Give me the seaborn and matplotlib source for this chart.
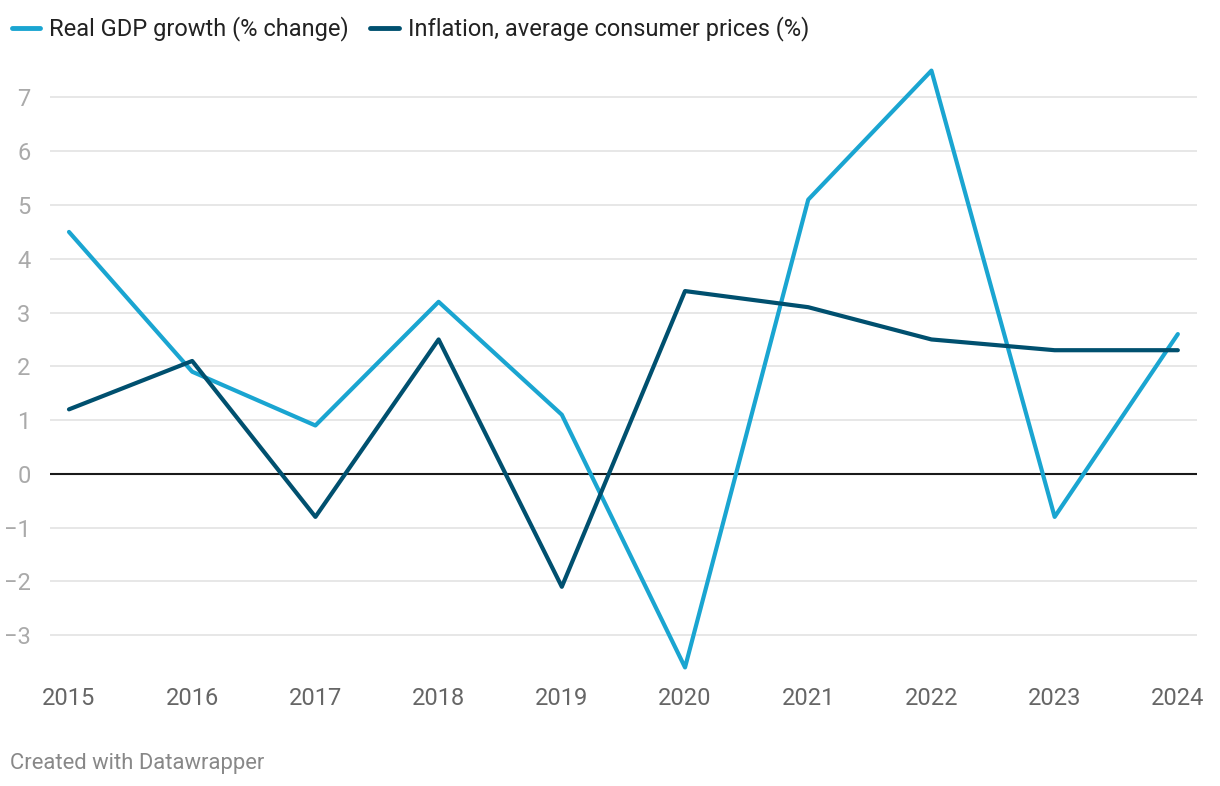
import pandas as pd
import matplotlib.pyplot as plt
import seaborn as sns

years = [2015, 2016, 2017, 2018, 2019, 2020, 2021, 2022, 2023, 2024]
gdp = [4.5, 1.9, 0.9, 3.2, 1.1, -3.6, 5.1, 7.5, -0.8, 2.6]
inflation = [1.2, 2.1, -0.8, 2.5, -2.1, 3.4, 3.1, 2.5, 2.3, 2.3]
series_names = ['Real GDP growth (% change)', 'Inflation, average consumer prices (%)']
y_ticks = [-3, -2, -1, 0, 1, 2, 3, 4, 5, 6, 7]

sns.set_theme(style='white')
plt.rcParams['font.family'] = ['Roboto', 'DejaVu Sans']

df = pd.DataFrame({'year': years, series_names[0]: gdp, series_names[1]: inflation})
long_df = df.melt(id_vars='year', var_name='series', value_name='value')

fig = plt.figure(figsize=(12.2, 7.86), dpi=100)
ax = fig.add_axes([0.041, 0.144, 0.94, 0.773])

for t in y_ticks:
    if t != 0:
        ax.axhline(t, color='#e3e3e3', lw=1.2, zorder=0)
ax.axhline(0, color='#1a1a1a', lw=1.5, zorder=1)

palette = {series_names[0]: '#1aa5d1', series_names[1]: '#00506f'}
sns.lineplot(data=long_df, x='year', y='value', hue='series', palette=palette,
             linewidth=3, ax=ax, legend=False, zorder=3)

ax.set_xlim(2014.846, 2024.154)
ax.set_ylim(-3.7, 7.6)
ax.set_xticks(years)
ax.set_xticklabels([str(y) for y in years])
ax.set_yticks(y_ticks)
ax.set_yticklabels([str(t).replace('-', '\u2212') for t in y_ticks])
ax.tick_params(axis='x', colors='#666666', labelsize=17, length=0, pad=10)
ax.tick_params(axis='y', colors='#aaaaaa', labelsize=17, length=0, pad=14)
ax.set_xlabel('')
ax.set_ylabel('')
for s in ax.spines.values():
    s.set_visible(False)

# legend
handles = [plt.Line2D([0], [0], color=palette[n], lw=3.5) for n in series_names]
fig.legend(handles, series_names, loc='upper left', bbox_to_anchor=(-0.0098, 1.009),
           ncol=2, frameon=False, fontsize=17, handlelength=1.2, handletextpad=0.4,
           columnspacing=0.9, labelcolor='#222222', borderaxespad=0.6)

fig.text(0.008, 0.021, 'Created with Datawrapper', color='#888888', fontsize=15.8)

fig.savefig('out.png', dpi=100)
